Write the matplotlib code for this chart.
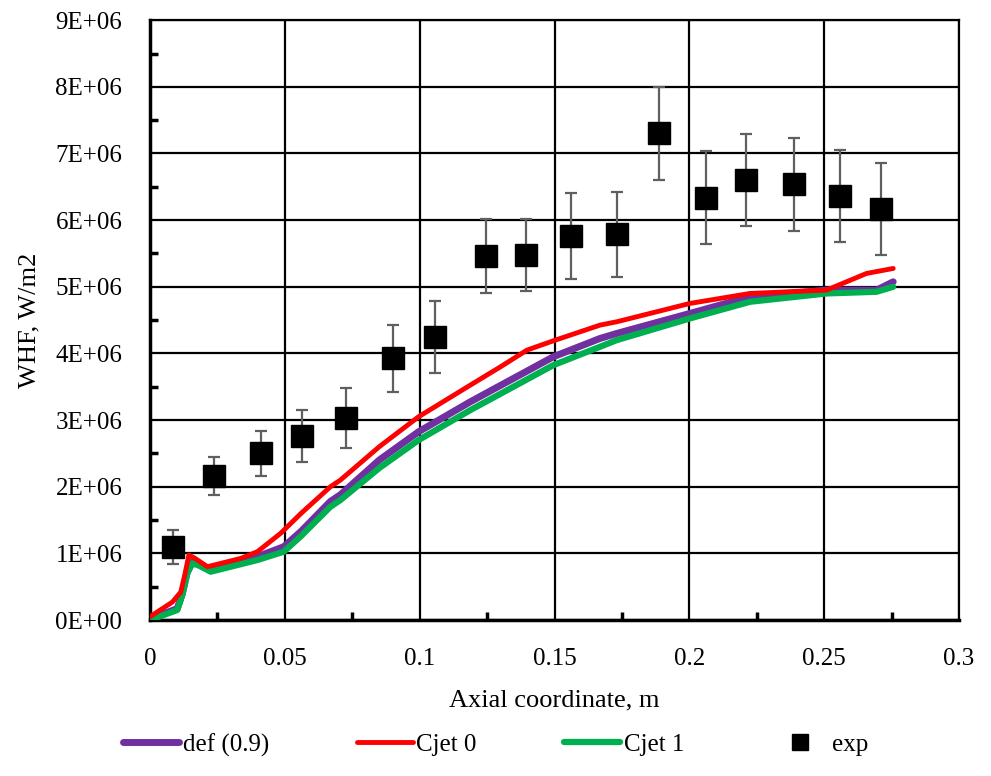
import matplotlib
matplotlib.use("Agg")
import matplotlib.pyplot as plt
from matplotlib.lines import Line2D
from matplotlib.ticker import MultipleLocator, FuncFormatter

plt.rcParams["font.family"] = ["Liberation Serif", "DejaVu Serif"]

# experimental points
x_exp = [0.0084, 0.0237, 0.0410, 0.0564, 0.0727, 0.0900, 0.1058, 0.1247, 0.1393,
         0.1560, 0.1733, 0.1889, 0.2062, 0.2209, 0.2389, 0.2558, 0.2711]
y_exp = [1.095, 2.16, 2.50, 2.76, 3.025, 3.925, 4.25, 5.46, 5.475,
         5.76, 5.785, 7.30, 6.335, 6.595, 6.535, 6.36, 6.17]
err_exp = [0.255, 0.29, 0.34, 0.39, 0.45, 0.50, 0.54, 0.55, 0.54,
           0.64, 0.64, 0.70, 0.70, 0.69, 0.70, 0.69, 0.69]

# simulation curves (x in m, y in 1E6 W/m2)
x_red = [0.0, 0.0083, 0.0114, 0.0130, 0.0144, 0.0165, 0.0213, 0.0337, 0.0398, 0.0484,
         0.0560, 0.0669, 0.0706, 0.0850, 0.0996, 0.1188, 0.1300, 0.1398, 0.1496, 0.1669,
         0.1731, 0.2002, 0.2225, 0.2509, 0.2657, 0.2756]
y_red = [0.05, 0.27, 0.42, 0.70, 0.975, 0.93, 0.80, 0.925, 1.025, 1.30,
         1.60, 2.00, 2.10, 2.60, 3.05, 3.525, 3.80, 4.05, 4.19, 4.425,
         4.475, 4.75, 4.90, 4.95, 5.20, 5.275]
x_pur = [0.0, 0.0101, 0.0120, 0.0138, 0.0157, 0.0180, 0.0225, 0.0398, 0.0496, 0.0560,
         0.0669, 0.0706, 0.0850, 0.0996, 0.1188, 0.1496, 0.1669, 0.1731, 0.2002, 0.2225,
         0.2509, 0.2694, 0.2756]
y_pur = [0.02, 0.17, 0.40, 0.72, 0.87, 0.84, 0.75, 0.95, 1.10, 1.33,
         1.78, 1.88, 2.40, 2.825, 3.275, 3.95, 4.225, 4.30, 4.60, 4.85,
         4.95, 4.95, 5.075]
x_grn = [0.0, 0.0101, 0.0120, 0.0138, 0.0157, 0.0180, 0.0225, 0.0398, 0.0496, 0.0560,
         0.0669, 0.0706, 0.0850, 0.0996, 0.1188, 0.1496, 0.1669, 0.1731, 0.2002, 0.2225,
         0.2509, 0.2694, 0.2756]
y_grn = [0.0, 0.15, 0.38, 0.70, 0.85, 0.82, 0.725, 0.90, 1.025, 1.26,
         1.70, 1.80, 2.28, 2.70, 3.15, 3.825, 4.10, 4.20, 4.525, 4.775,
         4.90, 4.925, 5.00]

scale = 1e6
fig = plt.figure(figsize=(9.91, 7.76), dpi=100)
ax = fig.add_axes([0.1514, 0.201, 0.8163, 0.773])

l1, = ax.plot(x_pur, [v * scale for v in y_pur], color="#7030A0", lw=5, label="def (0.9)",
              solid_capstyle="round", zorder=3)
l2, = ax.plot(x_red, [v * scale for v in y_red], color="#FF0000", lw=3.5, label="Cjet 0",
              solid_capstyle="round", zorder=5)
l3, = ax.plot(x_grn, [v * scale for v in y_grn], color="#00B050", lw=4.5, label="Cjet 1",
              solid_capstyle="round", zorder=4)
ax.errorbar(x_exp, [v * scale for v in y_exp], yerr=[e * scale for e in err_exp],
            fmt="s", color="black", ms=16, ecolor="#5f5f5f", elinewidth=1.6,
            capsize=4.5, capthick=1.6, zorder=6)

ax.set_xlim(0, 0.3)
ax.set_ylim(0, 9e6)
ax.xaxis.set_major_locator(MultipleLocator(0.05))
ax.xaxis.set_minor_locator(MultipleLocator(0.025))
ax.yaxis.set_major_locator(MultipleLocator(1e6))
ax.yaxis.set_minor_locator(MultipleLocator(0.5e6))
ax.xaxis.set_major_formatter(FuncFormatter(lambda v, p: "0" if v == 0 else f"{v:g}"))
ax.yaxis.set_major_formatter(FuncFormatter(lambda v, p: f"{int(round(v / 1e6))}E+06" if v > 0 else "0E+00"))

ax.grid(True, which="major", color="black", lw=1.6)
ax.tick_params(which="both", direction="in", labelsize=18, top=False, right=False)
ax.tick_params(which="major", length=0)
ax.tick_params(axis="y", which="major", pad=20)
ax.tick_params(axis="x", which="major", pad=20)
ax.tick_params(which="minor", length=6, width=2.5)
for s in ["left", "bottom"]:
    ax.spines[s].set_linewidth(2.5)
for s in ["top", "right"]:
    ax.spines[s].set_linewidth(1.6)

ax.set_xlabel("Axial coordinate, m", fontsize=19, labelpad=14)
ax.set_ylabel("WHF, W/m2", fontsize=19, labelpad=11)

exp_proxy = Line2D([], [], marker="s", color="black", ls="none", ms=12)
fig.legend([l1, l2, l3, exp_proxy], ["def (0.9)", "Cjet 0", "Cjet 1", "exp"],
           loc="center", bbox_to_anchor=(0.500, 0.04), ncol=4, frameon=False,
           fontsize=18, handlelength=2.24, handletextpad=0.15, columnspacing=3.5)

fig.savefig("out.png", dpi=100)
